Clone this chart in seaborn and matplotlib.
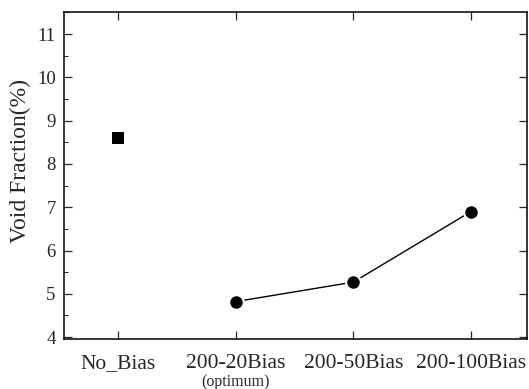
import matplotlib
matplotlib.use("Agg")
import matplotlib.pyplot as plt
from matplotlib.ticker import MultipleLocator
import seaborn as sns
import pandas as pd
import numpy as np

categories = ["No_Bias", "200-20Bias", "200-50Bias", "200-100Bias"]
void_fraction = [8.6, 4.82, 5.27, 6.9]
marker_kind = ["square", "circle", "circle", "circle"]
y_label = "Void Fraction(%)"
sub_note = "(optimum)"

sns.set_theme(style="white")
plt.rcParams["font.family"] = ["Liberation Serif", "DejaVu Serif"]

df = pd.DataFrame({"cat": categories, "pos": np.arange(len(categories)),
                   "val": void_fraction, "kind": marker_kind})

fig = plt.figure(figsize=(5.29, 3.89), dpi=100)
ax = fig.add_axes([0.121, 0.129, 0.875, 0.839])

circ = df[df["kind"] == "circle"]
sq = df[df["kind"] == "square"]
sns.lineplot(data=circ, x="pos", y="val", ax=ax, color="black", linewidth=1.0,
             marker="o", markersize=10.5, markeredgecolor="white",
             markeredgewidth=1.5, markerfacecolor="black")
sns.scatterplot(data=sq, x="pos", y="val", ax=ax, color="black", marker="s",
                s=65, edgecolor="black", linewidth=0)

ax.set_xlim(-0.46, 3.475)
ax.set_ylim(3.96, 11.5)
ax.set_xticks(df["pos"])
ax.set_xticklabels(categories, fontsize=15.5)
ax.yaxis.set_major_locator(MultipleLocator(1))
ax.yaxis.set_minor_locator(MultipleLocator(0.5))
ax.tick_params(axis="y", which="major", direction="in", length=6, width=0.9,
               labelsize=13.5, left=True, right=True, pad=6)
ax.tick_params(axis="y", which="minor", direction="in", length=3, width=0.7,
               left=True, right=False)
ax.tick_params(axis="x", which="major", direction="in", length=6, width=0.9,
               bottom=True, top=True, pad=11)
ax.set_xlabel("")
ax.set_ylabel(y_label, fontsize=17)
ax.yaxis.set_label_coords(-0.072, 0.545)
for s in ax.spines.values():
    s.set_color("black")
    s.set_linewidth(1.1)

ax.annotate(sub_note, xy=(df["pos"][1], 0), xycoords=("data", "axes fraction"),
            xytext=(0, -25), textcoords="offset points", ha="center", va="top",
            fontsize=11.5)

fig.savefig("out.png", dpi=100)
